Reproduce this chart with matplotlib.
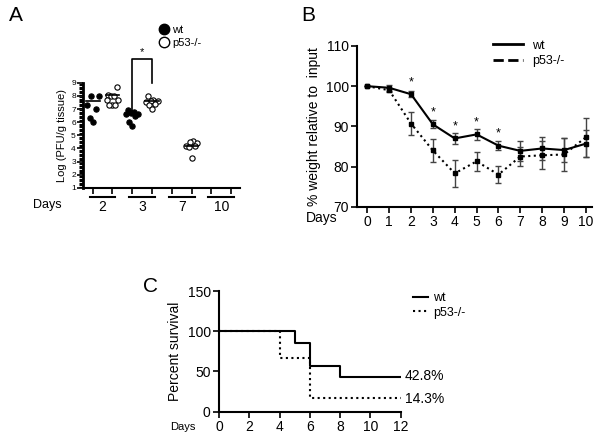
import numpy as np
import matplotlib.pyplot as plt
from matplotlib.lines import Line2D
from matplotlib.transforms import blended_transform_factory

plt.rcParams['font.family'] = ['Liberation Sans', 'DejaVu Sans']

# ---- panel A: viral titres ----
group_days = ['2', '3', '7', '10']
wt_titre = {
    '2': [8.0, 8.0, 7.3, 7.0, 6.3, 6.0],
    '3': [6.9, 6.8, 6.7, 6.6, 6.6, 6.5, 6.0, 5.7],
    '7': [],
    '10': [],
}
ko_titre = {
    '2': [8.7, 8.1, 8.0, 8.0, 7.7, 7.7, 7.3, 7.3, 7.3],
    '3': [8.0, 7.7, 7.6, 7.6, 7.5, 7.4, 7.3, 7.0],
    '7': [4.6, 4.5, 4.4, 4.2, 4.2, 4.1, 3.3],
    '10': [],
}
wt_mean = {'2': 7.6, '3': 6.65}
ko_mean = {'2': 8.1, '3': 7.6, '7': 4.2}

# ---- panel B: weight ----
days_b = np.arange(0, 11)
wt_weight = [100, 99.6, 98.0, 90.5, 87.0, 88.0, 85.2, 83.9, 84.5, 84.1, 85.7]
wt_err = [0, 0.7, 0.7, 1.0, 1.3, 1.3, 1.2, 2.4, 2.8, 2.9, 3.3]
ko_weight = [100, 99.0, 90.7, 84.0, 78.3, 81.3, 78.0, 82.5, 82.8, 83.0, 87.3]
ko_err = [0, 0.5, 2.9, 2.9, 3.3, 2.4, 2.1, 2.3, 3.5, 4.2, 4.9]
star_days = [2, 3, 4, 5, 6]
star_y = [101.0, 93.4, 90.1, 90.9, 88.3]

# ---- panel C: survival ----
wt_surv_t = [0, 5, 6, 8, 12]
wt_surv = [100, 85.7, 57.1, 42.8, 42.8]
ko_surv_t = [0, 4, 6, 12]
ko_surv = [100, 66.7, 16.7, 16.7]


def swarm(vals, width=0.3):
    n = len(vals)
    order = np.argsort(vals)
    offs = np.zeros(n)
    pattern = [0.0, -0.5, 0.5, -1.0, 1.0, -0.25, 0.25, -0.75, 0.75]
    for k, i in enumerate(order):
        offs[i] = pattern[k % len(pattern)] * width
    return offs


fig = plt.figure(figsize=(6, 4.38), dpi=100)

# ===== A =====
axA = fig.add_axes([0.138, 0.571, 0.262, 0.240])
pos = 0
for d in group_days:
    for vals, means, filled in ((wt_titre[d], wt_mean, True), (ko_titre[d], ko_mean, False)):
        if vals:
            x = pos + swarm(vals)
            axA.plot(x, vals, 'o', ms=3.8, mfc='black' if filled else 'white',
                     mec='black', mew=0.8, ls='none')
        if d in means:
            axA.plot([pos - 0.35, pos + 0.35], [means[d], means[d]], color='black', lw=1.2)
        pos += 1
axA.set_xlim(-0.5, 7.45)
axA.set_ylim(1, 9)
axA.set_xticks(np.arange(8))
axA.set_xticklabels([])
axA.set_yticks(np.arange(1, 10))
axA.set_yticks(np.arange(1, 9.01, 0.1), minor=True)
axA.tick_params(axis='y', which='major', labelsize=6, length=4, width=1.2, pad=1)
axA.tick_params(axis='y', which='minor', length=3, width=0.8)
axA.tick_params(axis='x', length=4, width=1.2)
for s in ('top', 'right'):
    axA.spines[s].set_visible(False)
axA.spines['left'].set_linewidth(2)
axA.spines['bottom'].set_linewidth(1.5)
axA.set_ylabel('Log (PFU/g tissue)', fontsize=8, labelpad=3)
tr = blended_transform_factory(axA.transData, axA.transAxes)
for i, d in enumerate(group_days):
    c = 2 * i
    axA.plot([c - 0.15, c + 1.15], [-0.085, -0.085], color='black', lw=1.5,
             transform=tr, clip_on=False)
    axA.text(c + 0.5, -0.18, d, transform=tr, ha='center', va='center', fontsize=10)
axA.text(-0.134, -0.16, 'Days', transform=axA.transAxes, ha='right', va='center', fontsize=9)
# significance bracket day 3
axA.plot([2, 2, 3, 3], [6.85, 10.8, 10.8, 9.0], color='black', lw=1.2, clip_on=False)
axA.text(2.5, 11.3, '*', ha='center', va='center', fontsize=8)
handles = [Line2D([], [], marker='o', ls='none', ms=7.5, mfc='black', mec='black'),
           Line2D([], [], marker='o', ls='none', ms=7.5, mfc='white', mec='black')]
fig.legend(handles, ['wt', 'p53-/-'], loc='upper left', bbox_to_anchor=(0.255, 0.955),
           frameon=False, fontsize=8, handletextpad=0.2, labelspacing=0.25,
           handlelength=1.0, borderpad=0)

# ===== B =====
axB = fig.add_axes([0.595, 0.528, 0.391, 0.367])
axB.errorbar(days_b, wt_weight, yerr=wt_err, fmt='-s', color='black', ms=3.5, lw=1.5,
             ecolor='#444444', elinewidth=1, capsize=2.5, label='wt')
axB.errorbar(days_b, ko_weight, yerr=ko_err, fmt=':s', color='black', ms=3.5, lw=1.5,
             ecolor='#444444', elinewidth=1, capsize=2.5, label='p53-/-')
for d, y in zip(star_days, star_y):
    axB.text(d, y, '*', ha='center', va='center', fontsize=9)
axB.set_xlim(-0.47, 10.26)
axB.set_ylim(70, 110)
axB.set_xticks(days_b)
axB.set_yticks([70, 80, 90, 100, 110])
axB.tick_params(labelsize=10, length=4, width=1.2, pad=2)
for s in ('top', 'right'):
    axB.spines[s].set_visible(False)
axB.spines['left'].set_linewidth(1.5)
axB.spines['bottom'].set_linewidth(1.5)
axB.set_ylabel('% weight relative to  input', fontsize=10, labelpad=3)
axB.text(-0.085, -0.07, 'Days', transform=axB.transAxes, ha='right', va='center', fontsize=10)
legB = [Line2D([], [], color='black', lw=2), Line2D([], [], color='black', lw=2, ls='--')]
axB.legend(legB, ['wt', 'p53-/-'], loc='upper left', bbox_to_anchor=(0.58, 1.04),
           frameon=False, fontsize=9, handlelength=2.4, handletextpad=0.7, labelspacing=0.3,
           borderpad=0, borderaxespad=0)

# ===== C =====
axC = fig.add_axes([0.365, 0.060, 0.303, 0.2756])
axC.step(wt_surv_t, wt_surv, where='post', color='black', lw=1.5, label='wt')
axC.step(ko_surv_t, ko_surv, where='post', color='black', lw=1.5, ls=':', label='p53-/-')
axC.text(12.25, wt_surv[-1] + 1, '42.8%', ha='left', va='center', fontsize=10)
axC.text(12.25, ko_surv[-1] - 1, '14.3%', ha='left', va='center', fontsize=10)
axC.set_xlim(0, 12)
axC.set_ylim(0, 150)
axC.set_xticks(np.arange(0, 13, 2))
axC.set_yticks([0, 50, 100, 150])
axC.tick_params(labelsize=10, length=4, width=1.2, pad=2)
for s in ('top', 'right'):
    axC.spines[s].set_visible(False)
axC.spines['left'].set_linewidth(1.5)
axC.spines['bottom'].set_linewidth(1.5)
axC.set_ylabel('Percent survival', fontsize=10, labelpad=4)
axC.text(-0.13, -0.13, 'Days', transform=axC.transAxes, ha='right', va='center', fontsize=8)
legC = [Line2D([], [], color='black', lw=1.5), Line2D([], [], color='black', lw=1.5, ls=':')]
axC.legend(legC, ['wt', 'p53-/-'], loc='upper left', bbox_to_anchor=(1.066, 0.99),
           frameon=False, fontsize=9, handlelength=1.2, handletextpad=0.4, labelspacing=0.2,
           borderpad=0, borderaxespad=0)

# panel letters
fig.text(0.015, 0.965, 'A', fontsize=15, va='center')
fig.text(0.502, 0.965, 'B', fontsize=15, va='center')
fig.text(0.238, 0.345, 'C', fontsize=15, va='center')

fig.savefig('out.png', dpi=100)
